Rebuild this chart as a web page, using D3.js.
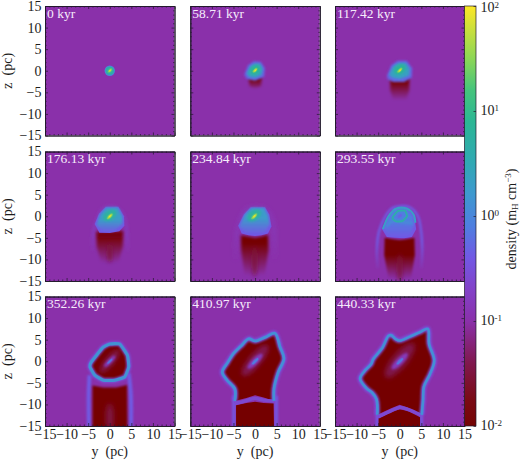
<!DOCTYPE html>
<html><head><meta charset="utf-8">
<script src="https://cdn.jsdelivr.net/npm/d3@7"></script>
<style>
html,body{margin:0;padding:0;background:#fff;}
svg{display:block;}
text{font-family:"Liberation Serif","Times New Roman",serif;fill:#1c1c1c;}
</style></head><body>
<script>
const times = ["0 kyr","58.71 kyr","117.42 kyr","176.13 kyr","234.84 kyr","293.55 kyr","352.26 kyr","410.97 kyr","440.33 kyr"];
const axisTicks = [-15,-10,-5,0,5,10,15];
const minorTicks = [-14,-13,-12,-11,-9,-8,-7,-6,-4,-3,-2,-1,1,2,3,4,6,7,8,9,11,12,13,14];
const cbarTicks = [100,10,1,0.1,0.01];
const cbarExp = ["2","1","0","-1","-2"];
const ambient = 0.1;
// colour map: log10(density) -> colour
const cmapLog = [-2,-1.75,-1.4,-1,-0.7,-0.4,-0.1,0.2,0.5,0.9,1.2,1.5,1.8,2];
const cmapCol = ["#750404","#7a0a14","#80184e","#8a30aa","#8342c8","#7258e4","#4f7ee0","#3f98d0","#30a8b4","#2bb694","#45c47c","#8cd656","#cfe03a","#fde725"];

// Layers: [kind, shape (pc), density, softness (pc), width (pc), fade z-range]
const scene0 = [
 ["blob",[0,0,1.2,1.2,0],1.1,0.14],
 ["blob",[0,0,0.95,0.95,0],5,0.16],
 ["blob",[0.05,0.05,0.62,0.3,-45],30,0.1],
 ["blob",[0.05,0.05,0.36,0.14,-45],90,0.05]];
const scene1 = [
 ["fill",[[-1.5,-1.4],[1.5,-1.4],[1.4,-3.6],[0,-4],[-1.3,-3.6]],0.011,0.4,0,[-1.8,-4.6]],
 ["fill",[[-2.5,-0.9],[-1.6,1.3],[-0.3,2.2],[1.3,2.1],[2.3,0.6],[2.1,-1.4],[0,-2.3],[-1.9,-1.9]],0.5,0.25],
 ["fill",[[-2,-0.6],[-1.1,1.1],[0,1.7],[1.2,1.6],[1.8,0.4],[1.5,-1],[0,-1.6],[-1.4,-1.4]],2.5,0.25],
 ["blob",[0,0.2,1.25,0.95,-40],8,0.2],
 ["blob",[0,0.1,0.7,0.32,-45],35,0.1],
 ["blob",[0.05,0.1,0.4,0.15,-45],95,0.05]];
const scene2 = [
 ["fill",[[-2.2,-1.5],[2.2,-1.5],[2.2,-4.5],[1.5,-6.8],[-1.5,-6.8],[-2.2,-4.5]],0.011,0.4,0,[-2.5,-6.8]],
 ["fill",[[-3,-1.2],[-2,1.2],[-0.5,2.3],[1.6,2.3],[2.9,0.6],[2.8,-1.6],[1,-2.6],[-1.5,-2.6],[-2.7,-2.1]],0.5,0.25],
 ["fill",[[-2.5,-0.9],[-1.5,1.1],[-0.3,1.8],[1.4,1.8],[2.3,0.5],[2.2,-1.1],[0,-1.9],[-1.7,-1.6]],2.3,0.25],
 ["blob",[0,0.3,1.5,1.05,-35],7,0.25],
 ["blob",[0,0.1,0.75,0.33,-45],32,0.1],
 ["blob",[0.05,0.1,0.42,0.16,-45],95,0.05]];
const scene3 = [
 ["path",[[-4,-8],[-3.9,-5],[-3.4,-2],[-1.5,1.8],[1.5,2],[3.3,0],[4,-4],[4.2,-8]],0.16,0.4,0.5,[-4,-9]],
 ["fill",[[-3.1,-3.6],[3.1,-3.4],[3,-7],[2,-10.8],[-2,-10.8],[-3,-7]],0.011,0.42,0,[-4.6,-10.8]],
 ["blob",[0,-8.5,0.5,2.2,0],0.03,0.5],
 ["fill",[[-3.5,-1.8],[-2.5,0.6],[-0.9,2.2],[2,2.2],[3.3,0],[3.4,-2.2],[2.2,-3.5],[0,-3.9],[-2.4,-3.8]],0.4,0.16],
 ["fill",[[-3.1,-2],[-2.2,0.5],[-0.8,2.05],[1.9,2.05],[2.9,0],[3,-1.7],[1,-3.5],[-1.6,-3.5]],2,0.2,0,[-0.8,-3.8]],
 ["blob",[0,0.2,1.7,1.1,-35],6,0.28],
 ["blob",[0,0,0.85,0.36,-45],32,0.1],
 ["blob",[0.05,0,0.45,0.17,-45],95,0.05]];
const scene4 = [
 ["path",[[-4.5,-10],[-4.4,-6],[-3.9,-2.5],[-2,1.5],[2,1.8],[3.9,-0.5],[4.5,-5],[4.6,-10]],0.15,0.45,0.6,[-4,-11]],
 ["fill",[[-3.3,-4.4],[-1.5,-4.7],[0,-5],[1.5,-4.7],[3,-4.3],[3.1,-8],[2.2,-13.8],[-2.4,-13.8],[-3.2,-8]],0.01,0.34,0,[-6.2,-13.8]],
 ["blob",[-0.1,-10.5,0.5,3.4,0],0.03,0.5],
 ["fill",[[-3.9,-2.2],[-2.6,0.4],[-1,2.1],[2.3,2.1],[3.3,0.4],[3.8,-2.4],[3,-4],[1.5,-4.4],[0,-4.6],[-1.5,-4.4],[-3.1,-4]],0.4,0.15],
 ["fill",[[-3.6,-2.4],[-2.4,0.4],[-0.9,1.95],[2.1,1.95],[3,0.2],[3.4,-1.8],[2,-4],[-2,-4]],1.8,0.2,0,[-0.5,-4.2]],
 ["blob",[-0.2,0.2,1.8,1.15,-35],5.5,0.3],
 ["blob",[-0.2,0,0.85,0.36,-45],32,0.1],
 ["blob",[-0.15,0,0.45,0.17,-45],100,0.05]];
const scene5 = [
 ["path",[[-5.1,-12],[-5.3,-8],[-4.8,-3.5],[-3.2,0.2],[-1.5,2],[2.2,2.1],[4.2,0],[5,-4],[5.2,-8],[5,-12]],0.42,0.25,0.55,[-6,-13]],
 ["fill",[[-3.5,-5],[-1.5,-5.3],[0,-5.5],[1.5,-5.3],[3.4,-5],[3.5,-9],[2.6,-14.5],[-2.6,-14.5],[-3.6,-9]],0.01,0.28,0,[-9,-14.5]],
 ["blob",[0,-12,0.5,3.2,0],0.03,0.5],
 ["fill",[[-4.1,-3],[-2.8,0],[-1.3,1.9],[1.8,1.9],[3.4,0],[3.8,-3],[2.8,-4.8],[1,-5.1],[-1,-5],[-3,-4.8]],0.4,0.16],
 ["fill",[[-3.7,-3],[-2.5,0],[-1.2,1.7],[1.6,1.8],[3,0],[3.3,-2],[2,-5],[-2,-5]],0.8,0.25,0,[-1,-5]],
 ["path",[[-3.9,-3],[-2.6,0],[-1,1.7],[1.6,1.8],[3.2,0.4],[3.6,-1.5]],2,0.16,0.5],
 ["path",[[-3.2,-2.6],[-1.4,-0.9],[1,-1.4],[3,-1.6]],1.2,0.3,0.5],
 ["ring",[[-1.7,-0.4],[-0.5,1.2],[1.2,1.3],[1.7,0],[0.6,-1.1],[-0.9,-1.2]],4,0.09,0.45],
 ["blob",[0,0.05,0.62,0.36,-40],0.5,0.12]];
const head6 = [[-4.3,-0.2],[-1.6,3.2],[0,4],[2.3,4],[4.1,1.4],[4.4,-1.3],[3.5,-3.6],[1.2,-4.4],[-1.5,-4.4],[-3.5,-3.2],[-4.6,-1.3]];
const scene6 = [
 ["path",[[-4.7,-3.2],[-4.9,-8],[-4.8,-16]],0.42,0.2,0.9],
 ["path",[[4.4,-2.8],[4.9,-8],[4.9,-16]],0.42,0.2,0.9],
 ["fill",[[-4,-5.6],[-1.5,-6.1],[1.5,-6.1],[4,-5.5],[4.1,-16],[-4,-16]],0.01,0.28],
 ["blob",[0,-13,0.9,3.2,0],0.035,0.6],
 ["fill",head6,0.01,0.1],
 ["ring",head6,0.35,0.2,1.1],
 ["ring",head6,1.4,0.12,0.72],
 ["blob",[0,0,3.4,1.1,-50],0.035,0.5],
 ["blob",[0,0,1.8,0.55,-45],0.14,0.28],
 ["blob",[0,0,0.85,0.26,-45],0.7,0.12]];
const head7 = [[-4.7,-9.2],[-4.7,-6.4],[-6.5,-4.4],[-7.6,-2.5],[-6.3,-0.2],[-5,1.8],[-3.2,3.6],[-1.5,5.2],[0,4.7],[2.4,5.6],[4.6,6.5],[5.8,3.3],[6.7,0.6],[5.4,-2.5],[4.4,-6.4],[4.4,-9.2]];
const scene7 = [
 ["path",[[-4.9,-8],[-4.9,-16]],0.35,0.2,0.85],
 ["path",[[4.9,-8],[4.9,-16]],0.35,0.2,0.85],
 ["fill",[[-4.4,-10.2],[-2,-9.7],[0,-9.4],[2,-9.7],[4.3,-9.8],[4.4,-16],[-4.4,-16]],0.01,0.14],
 ["fill",head7.concat([[2,-8.4],[0,-7.9],[-2,-8.5]]),0.01,0.08],
 ["path",[[-4.7,-9.8],[-3,-9.4],[-1,-8.8],[0,-8.6],[2,-9],[4.4,-9.2]],0.25,0.18,0.8],
 ["path",head7,0.35,0.2,1.15],
 ["path",head7,1.25,0.12,0.65],
 ["blob",[0,0.2,4.5,1.5,-50],0.04,0.55],
 ["blob",[0,0,2.4,0.75,-45],0.15,0.3],
 ["blob",[0,0,1,0.35,-45],0.8,0.14]];
const head8 = [[-5.2,-12.4],[-5.4,-8.8],[-6.4,-7.3],[-7.7,-6.3],[-9.2,-4],[-8.2,-2.3],[-6.6,-0.6],[-6.2,0.4],[-4,3.2],[-2.6,5.9],[-1.9,6],[-1,5.2],[0,4.8],[2.5,5.8],[4.6,6.7],[6.5,7.5],[6.8,4],[8,0.2],[7,-3],[5.6,-5.9],[5.4,-9],[5.1,-12.4]];
const scene8 = [
 ["path",[[-5.2,-11],[-5.2,-16]],0.35,0.2,0.8],
 ["path",[[5,-11],[5,-16]],0.35,0.2,0.8],
 ["fill",[[-4.9,-13.2],[-2,-11.8],[0,-11.1],[2,-11.6],[4.7,-13],[4.7,-16],[-4.9,-16]],0.01,0.12],
 ["fill",head8.concat([[2,-10.8],[0,-10.1],[-2,-10.9]]),0.01,0.08],
 ["path",[[-5,-12.9],[-2,-11.5],[0,-10.7],[2,-11.2],[5,-12.5]],0.25,0.18,0.8],
 ["path",head8,0.35,0.2,1.15],
 ["path",head8,1.25,0.12,0.62],
 ["blob",[0,0.2,5,1.7,-50],0.04,0.6],
 ["blob",[0,0,2.6,0.8,-45],0.15,0.3],
 ["blob",[0,0,1,0.35,-45],0.7,0.14]];
const scenes = [scene0,scene1,scene2,scene3,scene4,scene5,scene6,scene7,scene8];

// Layout
const W=520,H=460;
const colX=[45,190.3,335],rowY=[6,151.5,296.5],size=129.5;
const cbar={x:464.5,w:11.5,top:6,bottom:426};
const fs="14px";

const svg=d3.select("body").append("svg").attr("width",W).attr("height",H).attr("viewBox",`0 0 ${W} ${H}`);
const defs=svg.append("defs");
const color=d3.scaleLinear().domain(cmapLog).range(cmapCol).clamp(true);
const colorOf=d=>color(Math.log10(d));
const px=d3.scaleLinear().domain([-15,15]).range([0,size]);
const pz=d3.scaleLinear().domain([-15,15]).range([size,0]);
const ppc=size/30;

const blurs=new Set();
function blurId(s){
  const id="blur"+Math.round(s*100);
  if(!blurs.has(id)){
    blurs.add(id);
    defs.append("filter").attr("id",id).attr("filterUnits","userSpaceOnUse")
      .attr("x",-20).attr("y",-20).attr("width",size+40).attr("height",size+40)
      .append("feGaussianBlur").attr("stdDeviation",s*ppc);
  }
  return `url(#${id})`;
}
let gradN=0;
function paint(d,fade){
  if(!fade) return colorOf(d);
  const id="fade"+(gradN++);
  const g=defs.append("linearGradient").attr("id",id).attr("gradientUnits","userSpaceOnUse")
    .attr("x1",0).attr("x2",0).attr("y1",pz(fade[0])).attr("y2",pz(fade[1]));
  g.append("stop").attr("offset",0).attr("stop-color",colorOf(d)).attr("stop-opacity",1);
  g.append("stop").attr("offset",1).attr("stop-color",colorOf(d)).attr("stop-opacity",0);
  return `url(#${id})`;
}
const closed=d3.line().x(p=>px(p[0])).y(p=>pz(p[1])).curve(d3.curveLinearClosed);
const open=d3.line().x(p=>px(p[0])).y(p=>pz(p[1])).curve(d3.curveCatmullRom.alpha(0.5));
const ringLine=d3.line().x(p=>px(p[0])).y(p=>pz(p[1])).curve(d3.curveCardinalClosed.tension(0.6));

scenes.forEach((layers,i)=>{
  const c=i%3,r=Math.floor(i/3);
  const g=svg.append("g").attr("transform",`translate(${colX[c]},${rowY[r]})`);
  const clipId="clip"+i;
  defs.append("clipPath").attr("id",clipId).append("rect").attr("width",size).attr("height",size);
  const field=g.append("g").attr("clip-path",`url(#${clipId})`);
  field.append("rect").attr("width",size).attr("height",size).attr("fill",colorOf(ambient));
  layers.forEach(([kind,shape,d,soft,wid,fade])=>{
    let el;
    if(kind==="blob"){
      const [y,z,a,b,ang]=shape;
      el=field.append("ellipse").attr("cx",px(y)).attr("cy",pz(z))
        .attr("rx",a*ppc).attr("ry",b*ppc)
        .attr("transform",`rotate(${ang} ${px(y)} ${pz(z)})`).attr("fill",colorOf(d));
    } else if(kind==="fill"){
      el=field.append("path").attr("d",closed(shape)).attr("fill",paint(d,fade));
    } else if(kind==="ring"){
      el=field.append("path").attr("d",ringLine(shape)).attr("fill","none")
        .attr("stroke",colorOf(d)).attr("stroke-width",wid*ppc).attr("stroke-linejoin","round");
    } else {
      el=field.append("path").attr("d",open(shape)).attr("fill","none")
        .attr("stroke",paint(d,fade)).attr("stroke-width",wid*ppc).attr("stroke-linecap","butt");
    }
    el.attr("filter",blurId(soft));
  });
  g.append("text").attr("x",2).attr("y",11.5).style("font-size","13.5px").style("fill","#f6ecfb").text(times[i]);

  // axes on all four sides: minor and major ticks point inward
  const sides=[
    [d3.axisLeft,pz,0,0,c===0],
    [d3.axisRight,pz,size,0,false],
    [d3.axisTop,px,0,0,false],
    [d3.axisBottom,px,0,size,r===2]];
  sides.forEach(([mk,scale,tx,ty,labelled])=>{
    const gm=g.append("g").attr("transform",`translate(${tx},${ty})`)
      .call(mk(scale).tickValues(minorTicks).tickSizeInner(-1.5).tickSizeOuter(0).tickFormat(""));
    const gM=g.append("g").attr("transform",`translate(${tx},${ty})`)
      .call(mk(scale).tickValues(axisTicks).tickSizeInner(-3).tickSizeOuter(0).tickPadding(3.5)
        .tickFormat(labelled?d3.format("d"):""));
    [gm,gM].forEach(s=>{
      s.attr("font-family",null);
      s.selectAll("line").attr("stroke","#221a2c").attr("stroke-width",0.7);
      s.select(".domain").attr("stroke","#221a2c").attr("stroke-width",0.9);
      s.selectAll("text").style("font-size",fs).attr("fill","#1c1c1c");
    });
  });
  if(c===0) g.append("text").attr("transform",`translate(-33,${size/2}) rotate(-90)`)
    .attr("text-anchor","middle").style("font-size",fs).text("z\u00a0\u00a0(pc)");
  if(r===2) g.append("text").attr("x",size/2).attr("y",size+30).attr("text-anchor","middle")
    .style("font-size",fs).text("y\u00a0\u00a0(pc)");
});

// colour bar
const cy=d3.scaleLog().domain([0.01,100]).range([cbar.bottom,cbar.top]);
const grad=defs.append("linearGradient").attr("id","cbarGrad").attr("gradientUnits","userSpaceOnUse")
  .attr("x1",0).attr("x2",0).attr("y1",cbar.bottom).attr("y2",cbar.top);
cmapLog.forEach((l,i)=>grad.append("stop").attr("offset",(l+2)/4).attr("stop-color",cmapCol[i]));
svg.append("rect").attr("x",cbar.x).attr("y",cbar.top).attr("width",cbar.w).attr("height",cbar.bottom-cbar.top)
  .attr("fill","url(#cbarGrad)").attr("stroke","#221a2c").attr("stroke-width",0.7);
const cAxis=svg.append("g").attr("transform",`translate(${cbar.x+cbar.w},0)`)
  .call(d3.axisRight(cy).tickValues(cbarTicks).tickSizeInner(-2.5).tickSizeOuter(0).tickFormat(""));
cAxis.selectAll("line").attr("stroke","#221a2c").attr("stroke-width",0.7);
cAxis.select(".domain").attr("stroke","none");
cbarTicks.forEach((v,i)=>{
  const t=svg.append("text").attr("x",480.5).attr("y",Math.max(cy(v)+4,11.5)).style("font-size",fs).text("10");
  t.append("tspan").attr("dy",-4).style("font-size","9px").text(cbarExp[i]);
});
const cl=svg.append("text").attr("transform",`translate(515.5,${(cbar.top+cbar.bottom)/2+3}) rotate(-90)`)
  .attr("text-anchor","middle").style("font-size",fs).text("density (m");
cl.append("tspan").attr("dy",2.5).style("font-size","9px").text("H");
cl.append("tspan").attr("dy",-2.5).text(" cm");
cl.append("tspan").attr("dy",-4.5).style("font-size","9px").text("\u22123");
cl.append("tspan").attr("dy",4.5).text(")");
</script>
</body></html>
